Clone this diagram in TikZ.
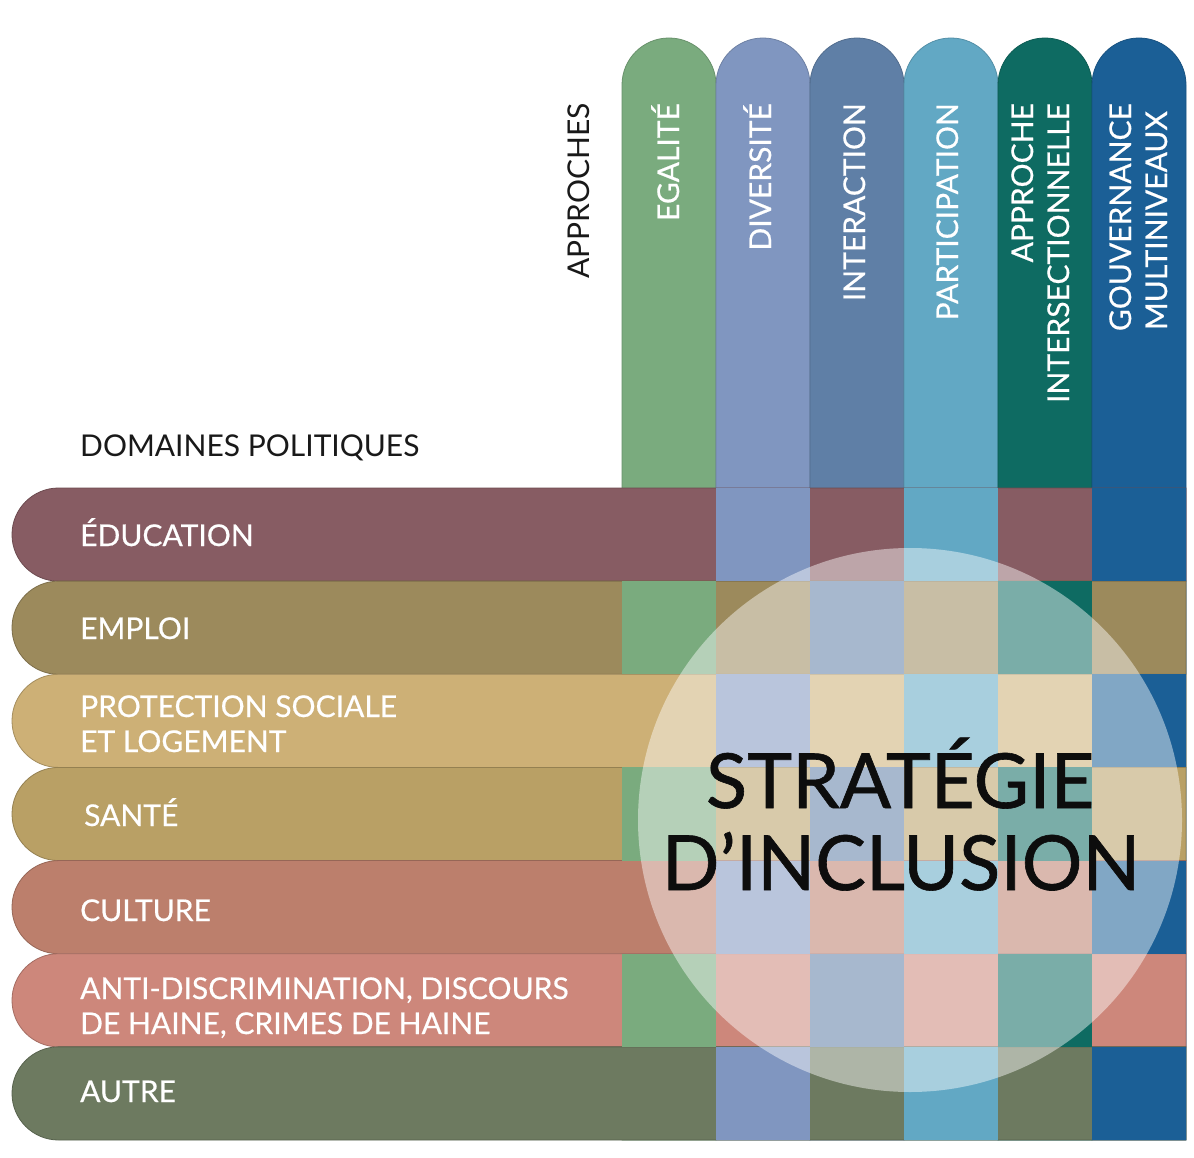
\documentclass[tikz,border=0pt]{standalone}
\usepackage{fontspec}
\setmainfont{Lato}
\newfontfamily\lblfont{Lato}[FakeBold=0.5]
\newfontfamily\ttlfont{Lato}[FakeBold=0.8]
% column colours (approaches)
\definecolor{C0}{HTML}{7AAB7E}
\definecolor{C1}{HTML}{8096C0}
\definecolor{C2}{HTML}{5F7FA6}
\definecolor{C3}{HTML}{62A8C4}
\definecolor{C4}{HTML}{0E6B62}
\definecolor{C5}{HTML}{1B5F96}
% row colours (policy domains)
\definecolor{R0}{HTML}{875C63}
\definecolor{R1}{HTML}{9C8A5C}
\definecolor{R2}{HTML}{CDB076}
\definecolor{R3}{HTML}{B9A065}
\definecolor{R4}{HTML}{BC7F6C}
\definecolor{R5}{HTML}{CD877B}
\definecolor{R6}{HTML}{6D7A60}
\begin{document}
\begin{tikzpicture}[x=1pt,y=-1pt,
  wlab/.style={text=white, font=\lblfont\fontsize{30}{36}\selectfont, inner sep=0pt},
  blab/.style={text=black!90, font=\fontsize{30}{36}\selectfont, inner sep=0pt},
  clab/.style={wlab, rotate=90, anchor=base east},
  rlab/.style={wlab, anchor=base west},
  title/.style={text=black!95, font=\ttlfont\fontsize{76}{90}\selectfont, inner sep=0pt, anchor=base}]
\useasboundingbox (0,0) rectangle (1194,1158);
\fill[white] (0,0) rectangle (1194,1158);
% columns
\foreach \c in {0,...,5} {
  \pgfmathsetmacro{\L}{622+94*\c}
  \pgfmathsetmacro{\R}{\L+94}
  \pgfmathsetmacro{\M}{\L+47}
  \fill[C\c, draw=C\c!85!black, line width=0.8pt] (\L,1140) -- (\L,85) .. controls (\L,59) and (\M-26,38) .. (\M,38)
     .. controls (\M+26,38) and (\R,59) .. (\R,85) -- (\R,1140) -- cycle;
}
% rows
\foreach \r in {0,...,6} {
  \pgfmathsetmacro{\T}{488+93.143*\r}
  \pgfmathsetmacro{\B}{\T+93.143}
  \pgfmathsetmacro{\Mid}{\T+46.57}
  \fill[R\r, draw=R\r!80!black, line width=0.8pt] (1186,\T) -- (58.57,\T) .. controls (32.85,\T) and (12,\Mid-25.72) .. (12,\Mid)
     .. controls (12,\Mid+25.72) and (32.85,\B) .. (58.57,\B) -- (1186,\B) -- cycle;
}
% weave: columns over rows where r+c is odd
\foreach \r in {0,...,6} {
  \foreach \c in {0,...,5} {
    \pgfmathtruncatemacro{\odd}{mod(\r+\c,2)}
    \ifnum\odd=1
      \pgfmathsetmacro{\L}{622+94*\c}
      \pgfmathsetmacro{\T}{488+93.143*\r}
      \fill[C\c] (\L,\T) rectangle (\L+94,\T+93.143);
    \fi
  }
}
% circle
\fill[white, opacity=0.45] (910,820) circle[radius=272pt];
% headings
\node[blab, anchor=base west] (dom) at (80,456) {DOMAINES POLITIQUES};
\node[blab, rotate=90, anchor=base east] (app) at (589,103) {APPROCHES};
% column labels
\node[clab] (egal) at (679,103) {EGALITÉ};
\node[clab] (div) at (771,103) {DIVERSITÉ};
\node[clab] (inter) at (865,103) {INTERACTION};
\node[clab] (part) at (958,103) {PARTICIPATION};
\node[clab] (appa) at (1033,103) {APPROCHE};
\node[clab] (appb) at (1069,103) {INTERSECTIONNELLE};
\node[clab] (gova) at (1131,103) {GOUVERNANCE};
\node[clab] (govb) at (1167,111) {MULTINIVEAUX};
% row labels
\node[rlab] (edu) at (80,546) {ÉDUCATION};
\node[rlab] (emp) at (80,639) {EMPLOI};
\node[rlab] (proa) at (80,717) {PROTECTION SOCIALE};
\node[rlab] (prob) at (80,752) {ET LOGEMENT};
\node[rlab] (san) at (84,826) {SANTÉ};
\node[rlab] (cul) at (80,921) {CULTURE};
\node[rlab] (anta) at (80,999) {ANTI-DISCRIMINATION, DISCOURS};
\node[rlab] (antb) at (80,1034) {DE HAINE, CRIMES DE HAINE};
\node[rlab] (aut) at (80,1102) {AUTRE};
% title
\node[title] (t1) at (900,808) {STRATÉGIE};
\node[title] (t2) at (901,890) {D’INCLUSION};
\end{tikzpicture}
\end{document}
